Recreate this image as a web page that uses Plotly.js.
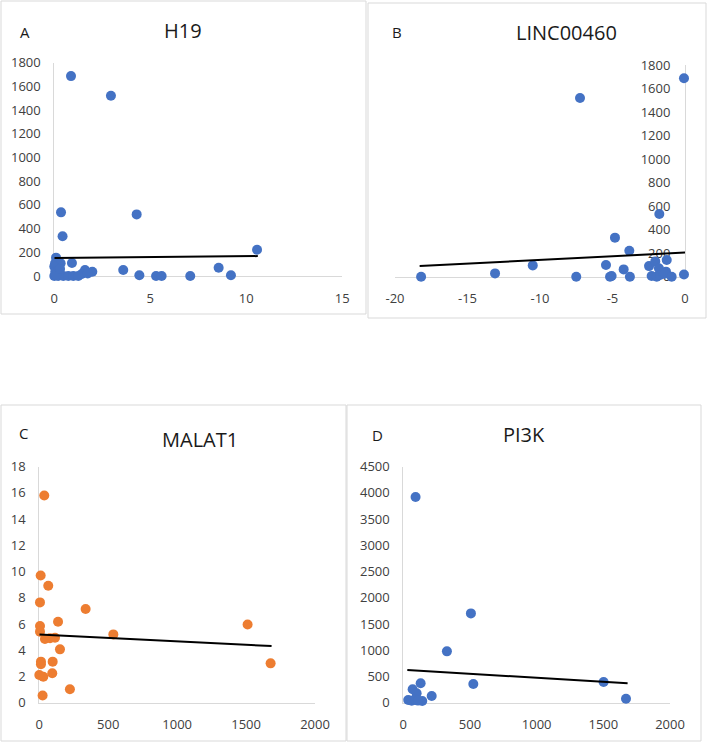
<!DOCTYPE html>
<html>
<head>
<meta charset="utf-8">
<script src="https://cdn.plot.ly/plotly-3.0.1.min.js"></script>
<style>html,body{margin:0;padding:0;background:#fff;}#chart{width:709px;height:742px;}</style>
</head>
<body>
<div id="chart"></div>
<script>
// Panel A: H19
const h19X = [0.87, 2.95, 0.35, 4.29, 0.43, 10.56, 0.09, 0.04, 0.33, 0.92, 0.0, 0.05, 0.2, 1.6, 1.98, 1.43, 1.74, 3.59, 4.43, 5.3, 5.59, 7.08, 8.56, 9.2, 0.0, 0.2, 0.47, 0.73, 0.99, 1.25, 0.1, 0.3];
const h19Y = [1687, 1521, 537, 520, 335, 222, 155, 107, 107, 110, 80, 36, 40, 50, 36, 17, 22, 51, 6, 0, 0, 0, 70, 6, 0, 0, 0, 0, 0, 0, 10, 60];
const h19TrendX = [0, 10.6];
const h19TrendY = [152, 168];

// Panel B: LINC00460
const lincX = [-18.2, -13.1, -10.5, -7.24, -7.5, -5.45, -4.83, -5.17, -5.06, -4.23, -3.84, -3.8, -2.48, -1.77, -2.05, -1.26, -1.8, -1.31, -2.3, -1.95, -1.72, -1.5, -1.4, -0.92, -0.07, -0.07];
const lincY = [0, 28, 96, 1520, 0, 100, 332, 0, 6, 62, 220, 0, 90, 533, 130, 142, 71, 43, 6, 0, 14, 30, 25, 0, 1687, 18];
const lincTrendX = [-18.3, 0];
const lincTrendY = [90, 205];
const lincTickVals = [-20, -15, -10, -5, 0];
const lincTickText = ["-20", "-15", "-10", "-5", "0"];

// Panel C: MALAT1
const malatX = [36, 10, 65, 5, 336, 136, 5, 5, 537, 1511, 41, 78, 114, 150, 12, 12, 97, 0, 29, 94, 222, 24, 1678];
const malatY = [15.8, 9.7, 8.92, 7.65, 7.15, 6.18, 5.85, 5.42, 5.21, 5.97, 4.86, 4.91, 4.96, 4.07, 3.13, 2.93, 3.13, 2.11, 1.98, 2.24, 1.02, 0.55, 3.0];
const malatTrendX = [0, 1685];
const malatTrendY = [5.21, 4.32];

// Panel D: PI3K
const pi3kX = [92, 507, 327, 525, 1502, 1670, 130, 70, 100, 213, 142, 37, 63, 88, 110];
const pi3kY = [3922, 1703, 979, 357, 394, 76, 370, 255, 179, 128, 32, 51, 38, 65, 40];
const pi3kTrendX = [30, 1682];
const pi3kTrendY = [623, 369];

const panelTitles = ["H19", "LINC00460", "MALAT1", "PI3K"];
const panelLetters = ["A", "B", "C", "D"];

const W = 709, H = 742;
const px = v => v / W;
const py = v => 1 - v / H;

const BLUE = "#4472C4", ORANGE = "#ED7D31";
const FONT = "Open Sans, Liberation Sans, sans-serif";

function pts(x, y, color, xa, ya) {
  return {x: x, y: y, type: "scatter", mode: "markers", xaxis: xa, yaxis: ya,
    marker: {color: color, size: 10}, cliponaxis: false, hoverinfo: "skip"};
}
function trend(x, y, xa, ya) {
  return {x: x, y: y, type: "scatter", mode: "lines", xaxis: xa, yaxis: ya,
    line: {color: "#000", width: 2}, cliponaxis: false, hoverinfo: "skip"};
}

const data = [
  pts(h19X, h19Y, BLUE, "x", "y"), trend(h19TrendX, h19TrendY, "x", "y"),
  pts(lincX, lincY, BLUE, "x2", "y2"), trend(lincTrendX, lincTrendY, "x2", "y2"),
  pts(malatX, malatY, ORANGE, "x3", "y3"), trend(malatTrendX, malatTrendY, "x3", "y3"),
  pts(pi3kX, pi3kY, BLUE, "x4", "y4"), trend(pi3kTrendX, pi3kTrendY, "x4", "y4")
];

const axBase = {showgrid: false, zeroline: false, showline: true, linecolor: "#d9d9d9", linewidth: 1,
  layer: "below traces",
  ticks: "", tickfont: {family: FONT, size: 13, color: "#404040"}, ticklabelstandoff: 10, fixedrange: true};

function ax(extra) { return Object.assign({}, axBase, extra); }

const layout = {
  width: W, height: H, margin: {l: 0, r: 0, t: 0, b: 0},
  paper_bgcolor: "#fff", plot_bgcolor: "rgba(0,0,0,0)", showlegend: false,
  font: {family: FONT},
  xaxis: ax({domain: [px(54.3), px(342.3)], range: [0, 15], dtick: 5, anchor: "y"}),
  yaxis: ax({domain: [py(276), py(62.7)], range: [0, 1800], dtick: 200, anchor: "x"}),
  xaxis2: ax({domain: [px(395), px(685)], range: [-20, 0], tickmode: "array", tickvals: lincTickVals, ticktext: lincTickText, anchor: "y2"}),
  yaxis2: ax({domain: [py(276.7), py(65)], range: [0, 1800], dtick: 200, anchor: "free", position: px(685), side: "left", ticklabelstandoff: 12}),
  xaxis3: ax({domain: [px(39.3), px(315)], range: [0, 2000], dtick: 500, anchor: "y3"}),
  yaxis3: ax({domain: [py(702.7), py(466.7)], range: [0, 18], dtick: 2, anchor: "x3"}),
  xaxis4: ax({domain: [px(403.3), px(670)], range: [0, 2000], dtick: 500, anchor: "y4"}),
  yaxis4: ax({domain: [py(702.7), py(466.7)], range: [0, 4500], dtick: 500, anchor: "x4"}),
  shapes: [
    [1, 1, 366, 314], [368, 3, 706, 318], [1, 405, 346, 741], [347, 405, 701, 741]
  ].map(b => ({type: "rect", xref: "paper", yref: "paper", x0: px(b[0]), x1: px(b[2]), y0: py(b[3]), y1: py(b[1]),
    line: {color: "#d9d9d9", width: 1}, fillcolor: "rgba(0,0,0,0)", layer: "below"})),
  annotations: []
};

const titlePos = [[183, 30], [566, 33], [200, 439], [524, 435]];
const letterPos = [[25, 32], [397, 32], [23, 433], [378, 435]];
panelTitles.forEach((t, i) => {
  layout.annotations.push({text: t, xref: "paper", yref: "paper", x: px(titlePos[i][0]), y: py(titlePos[i][1]),
    xanchor: "center", yanchor: "middle", showarrow: false, font: {family: FONT, size: 20, color: "#1a1a1a"}});
  layout.annotations.push({text: panelLetters[i], xref: "paper", yref: "paper", x: px(letterPos[i][0]), y: py(letterPos[i][1]),
    xanchor: "center", yanchor: "middle", showarrow: false, font: {family: FONT, size: 15, color: "#1a1a1a"}});
});

Plotly.newPlot("chart", data, layout, {staticPlot: true, displayModeBar: false});
</script>
</body>
</html>
